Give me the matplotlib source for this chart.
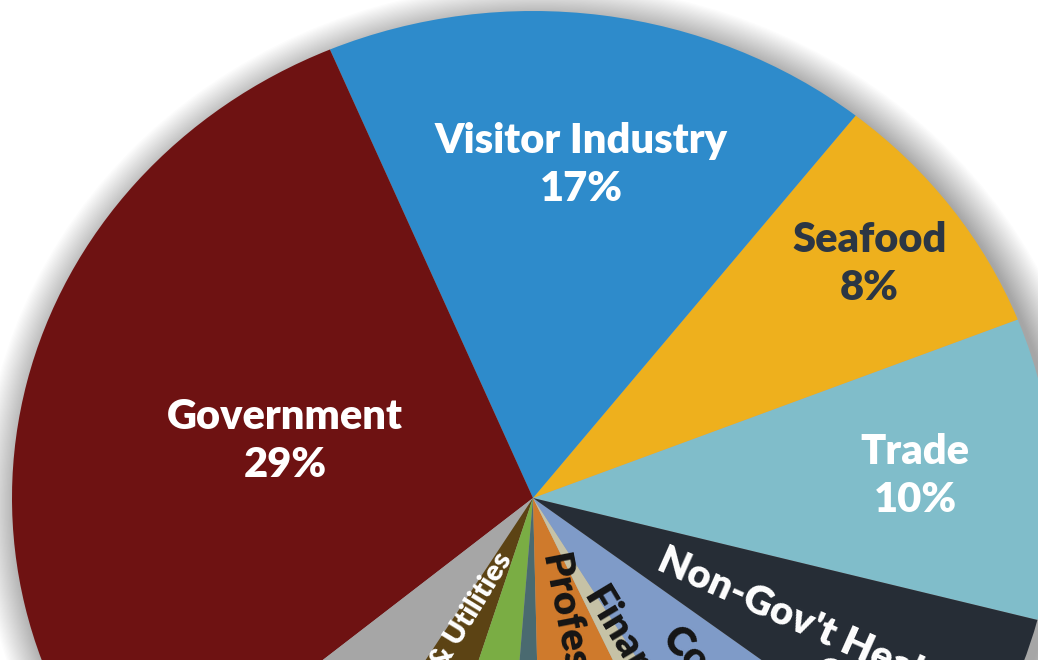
import numpy as np
import matplotlib.pyplot as plt
from matplotlib.patches import Ellipse

# slices, counterclockwise starting at the Trade / Non-Gov't Health boundary
sectors = [
    "Trade", "Seafood", "Visitor Industry", "Government", "Other",
    "Transportation & Utilities", "Manufacturing", "Information",
    "Professional", "Finance", "Construction", "Non-Gov't Health Care",
]
shares = [10, 8.4, 17, 29.6, 5.2, 4, 3.6, 1.6, 6.5, 1.8, 6, 6.3]
shown_pct = ["10%", "8%", "17%", "29%", "", "", "", "", "", "", "", ""]

COLORS = [
    "#80bdca", "#eeb01d", "#2e8bcb", "#6e1212", "#a6a6a6", "#5c4314",
    "#7aad44", "#4a6a70", "#cf7a2c", "#c6c2a6", "#7f9bc8", "#262d36",
]

FONT = "Lato"
W, H = 1038, 660
CX, CY = 533, 498          # pie centre in pixels (from top-left)
RX, RY = 521, 487          # the pie is slightly stretched horizontally

fig = plt.figure(figsize=(W / 100, H / 100), dpi=100)
ax = fig.add_axes([0, 0, 1, 1])
ax.set_facecolor("white")

# soft drop shadow, a bit towards the lower right
for k in range(30):
    grow = 1 + k * 0.0025
    ax.add_patch(Ellipse((0.014, -0.016), 2 * grow, 2 * grow, color="black",
                         alpha=0.011, linewidth=0, zorder=0))

wedges, _ = ax.pie(shares, colors=COLORS, startangle=-14.5, counterclock=True,
                   radius=1, wedgeprops={"linewidth": 0})
for w in wedges:
    w.set_zorder(2)

ax.set_aspect("auto")
ax.set_xlim(-CX / RX, (W - CX) / RX)
ax.set_ylim(-(H - CY) / RY, CY / RY)
ax.axis("off")


def polar(r, deg):
    a = np.deg2rad(deg)
    return r * np.cos(a), r * np.sin(a)


# big horizontal labels, placed on the slice mid-angle
main_labels = {0: (0.735, "white"), 1: (0.805, "#2b3644"),
               2: (0.69, "white"), 3: (0.49, "white")}
for i, (r, col) in main_labels.items():
    w = wedges[i]
    mid = (w.theta1 + w.theta2) / 2
    x, y = polar(r, mid)
    ax.text(x, y, f"{sectors[i]}\n{shown_pct[i]}", ha="center", va="center",
            color=col, fontsize=30, fontweight="heavy", family=FONT,
            linespacing=1.32, zorder=5)

# rotated labels in the thin slices (cut off by the frame)
rotated = [
    # text, r, angle, rotation, ha, va, colour, size
    ("Non-Gov't Health", 0.272, -19.0, -24.0, "left", "top", "white", 29),
    ("Care", 0.639, -29.7, -24.0, "left", "top", "white", 29),
    ("Construction", 0.379, -46.9, -45.5, "left", "center", "#151515", 29),
    ("Finance", 0.22, -59.1, -59.0, "left", "center", "#151515", 29),
    ("Professional", 0.12, -72.0, -79.0, "left", "center", "#151515", 29),
    ("Transportation & Utilities", 0.128, 246.0, 58.5, "right", "center", "white", 21),
]
for text, r, ang, rot, ha, va, col, size in rotated:
    x, y = polar(r, ang)
    ax.text(x, y, text, ha=ha, va=va, rotation=rot, rotation_mode="anchor",
            color=col, fontsize=size, fontweight="heavy", family=FONT, zorder=5)

fig.savefig("out.png", dpi=100, facecolor="white")
